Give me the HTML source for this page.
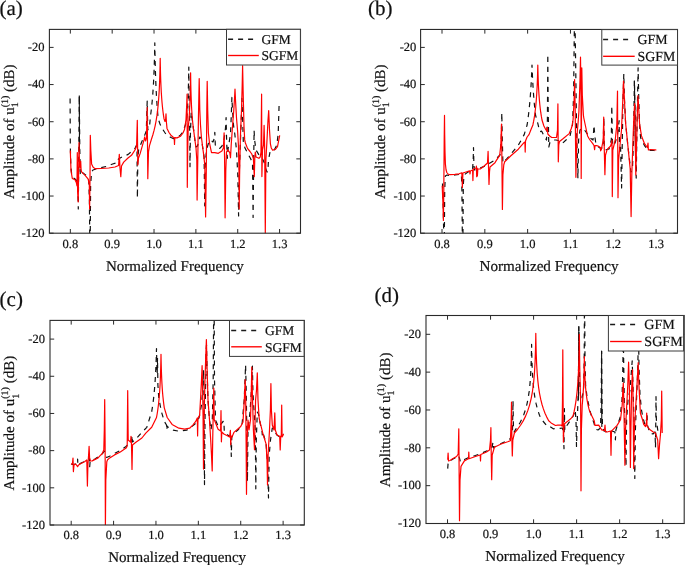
<!DOCTYPE html>
<html><head><meta charset="utf-8"><style>
html,body{margin:0;padding:0;background:#fff;width:685px;height:565px;overflow:hidden}
svg{display:block;will-change:transform;filter:blur(0.3px)}
text{font-family:"Liberation Serif", serif;fill:#111;text-rendering:geometricPrecision;stroke:#111;stroke-width:0.2px}
</style></head><body>
<svg width="685" height="565" viewBox="0 0 685 565">
<clipPath id="cpa"><rect x="49.4" y="29.4" width="251.1" height="203.8"/></clipPath>
<path d="M70.1 98.6 L70.3 145.3 L70.8 165 L71.5 173 L72.5 177 L75 179 L77 181 L77.8 186 L78.3 209 L78.8 150 L79.3 95.4 L79.8 150 L80.3 175 L81 172 L83 173 L84.9 174.5 L87.5 176.5 L88.8 181 L89.4 200 L89.8 245 L90.2 245 L90.6 185 L91.6 172 L93 170 L96 169 L100 168 L106 166.5 L112.6 164 L117.8 162.5 L118.4 159 L122 157 L128.2 154.4 L131 152 L135 148.5 L136.3 145.6 L137 150 L137.4 198 L137.8 160 L138.6 150 L141.8 141.7 L144.1 136.8 L146.3 131 L147.2 101 L147.8 130 L149.5 127 L150.4 116.7 L151.06 111.75 L151.67 106.53 L152.21 101.02 L152.7 95.21 L153.14 89.09 L153.52 82.69 L153.84 76.05 L154.12 69.27 L154.34 62.53 L154.52 56.13 L154.65 50.51 L154.74 46.17 L154.79 43.56 L154.8 42.8 L154.81 43.48 L154.85 45.82 L154.91 49.8 L155.02 55.1 L155.15 61.31 L155.33 68.03 L155.54 74.95 L155.79 81.86 L156.09 88.63 L156.42 95.18 L156.8 101.47 L157.22 107.48 L157.69 113.23 L158.2 118.7 L160 124 L162.1 128.4 L164.8 132.5 L166 134.2 L168 136 L171 137.5 L173.6 138.6 L177 137.5 L180 135.5 L182 133 L184.3 128 L186.4 122 L186.76 118.11 L187.09 114.01 L187.39 109.72 L187.66 105.22 L187.89 100.53 L188.1 95.66 L188.28 90.67 L188.43 85.65 L188.55 80.76 L188.65 76.21 L188.72 72.3 L188.77 69.35 L188.79 67.6 L188.8 67.1 L188.8 67.39 L188.81 68.41 L188.83 70.24 L188.85 72.86 L188.88 76.18 L188.92 80.11 L188.97 84.5 L189.03 89.24 L189.1 94.23 L189.18 99.36 L189.27 104.55 L189.37 109.75 L189.48 114.91 L189.6 120 L190 166.7 L190.4 135 L191.2 112 L192.8 124 L193.8 131.3 L194.9 140 L196 147 L197.5 146 L199.8 137 L201.3 138.4 L202.5 146 L203.4 152.6 L204.1 157 L204.7 205.8 L205.3 165 L206.5 150 L208.5 143 L210.5 140 L213 142 L214.4 138 L214.8 132.3 L215.3 145 L217 148 L219.8 148.3 L222 146 L224 140 L225.5 128 L226.1 117.5 L226.6 140 L227.3 158.3 L228.2 148 L230.5 134.2 L231.3 115 L231.9 97.4 L232.5 110 L233.5 125 L234.8 134 L236.5 150 L237.8 175 L238.6 216 L239.4 170 L240.5 140 L241.4 115 L241.9 98.3 L242.5 115 L243.3 141.3 L245 148 L247.5 153 L250.4 158.3 L252.5 162.6 L253.1 217.4 L253.7 160 L254.1 130.4 L254.6 140 L256 150 L259 155 L262 158 L264 162 L265.5 168 L267 172 L267.8 171.8 L268.5 160 L270 152 L273.3 151.6 L276.8 145.2 L278.2 133.9 L279.2 101.3" fill="none" stroke="#111" stroke-width="1.2" stroke-dasharray="5 5" stroke-linejoin="round" clip-path="url(#cpa)"/>
<path d="M79.3 95.4 L79.5 150" fill="none" stroke="#111" stroke-width="1.1" clip-path="url(#cpa)"/>
<path d="M70.3 150.6 L71 170.5 L72.3 178.5 L75 179.8 L76.3 182.5 L77 186 L77.3 152.6 L77.6 191.8 L78.2 202 L78.6 175 L79 142.7 L79.5 165 L80.2 168 L80.7 161.2 L81.1 170 L81.6 171.9 L84.9 175.2 L88.2 179.2 L89.3 185 L89.6 209 L90 180 L90.3 135.3 L90.8 150 L91.6 163.9 L93 167 L94.9 168.6 L101 168.5 L108.7 168 L115 167 L118.6 165.5 L119.3 154.3 L120 168 L120.8 176.7 L121.5 166 L123.7 162.1 L128 158 L131.5 155.3 L135.3 149.5 L136.6 146 L137.3 120.3 L137.8 165 L138.5 158 L140.2 153.4 L144.1 139.7 L144.7 136.8 L145.5 141 L146.5 138 L147.2 107.6 L147.8 178.7 L148.5 152 L149.5 145.6 L151.5 139 L152.81 134.99 L154 130.7 L155.08 126.08 L156.05 121.1 L156.91 115.7 L157.66 109.82 L158.31 103.4 L158.85 96.4 L159.3 88.8 L159.65 80.72 L159.91 72.52 L160.08 65.09 L160.17 59.94 L160.2 58.3 L160.21 59.02 L160.25 61.47 L160.33 65.44 L160.44 70.43 L160.59 75.93 L160.79 81.56 L161.03 87.09 L161.31 92.41 L161.64 97.47 L162.01 102.24 L162.44 106.73 L162.91 110.96 L163.43 114.94 L164 118.7 L165 121.5 L165.6 120 L166 113.8 L166.4 122 L167 128.4 L169 132.5 L170.9 135.2 L173 137 L174.2 137.7 L174.5 144.5 L174.8 137.7 L177 137.9 L180.6 136.2 L183 133 L184.5 129.5 L186 119.6 L186.7 105 L187.1 94 L187.3 187.3 L187.7 150 L188.2 128 L188.56 124.39 L188.89 120.58 L189.19 116.55 L189.46 112.29 L189.69 107.79 L189.9 103.06 L190.08 98.13 L190.23 93.06 L190.35 87.99 L190.45 83.13 L190.52 78.8 L190.57 75.44 L190.59 73.4 L190.6 72.8 L190.61 73.55 L190.64 76.08 L190.71 80.12 L190.8 85.12 L190.93 90.55 L191.1 96.04 L191.3 101.38 L191.53 106.48 L191.81 111.29 L192.13 115.81 L192.48 120.05 L192.88 124.03 L193.32 127.78 L193.8 131.3 L194.9 140 L196 148 L196.8 160 L197.1 200.1 L197.6 170 L198.4 120 L199.2 78.5 L199.8 110 L200.5 125 L201.3 136 L202.5 146 L203.4 152.6 L204.8 165 L205.6 216.9 L206.3 170 L206.8 110 L207.2 81.3 L207.7 110 L208.4 133 L209.5 143 L211.2 151.1 L211.5 152.6 L214.8 152.6 L218.3 153.3 L221.9 151.1 L223.4 148 L224.1 132.8 L224.6 160 L225.1 217.8 L225.8 170 L226.5 152 L227.7 149.8 L229.8 152.6 L230.5 157.6 L231.2 145 L232.6 125 L233.8 110 L234.6 97 L235 89.1 L235.5 100 L236.5 118 L237.6 131 L238.4 145 L239 170 L239.2 209 L239.6 175 L240.4 136.6 L241.5 110 L242.2 85 L242.6 65.7 L243.1 90 L244 126.7 L244.7 139.9 L245.4 143 L247.5 148.4 L250 151.5 L251.8 154 L253.4 158.5 L254.3 176.6 L254.8 158 L255.3 152 L256 157 L258.9 158.3 L260.2 157 L261 152 L261.6 94.2 L261.9 176.6 L262.5 150 L263.5 145 L264.1 125.4 L264.7 150 L265.3 233.5 L265.9 160 L267 140 L268 120 L268.7 110.5 L269.5 130 L270.4 143.8 L271.3 148 L272.6 150.2 L275.4 149.5 L277.5 146.7 L279.7 135.3" fill="none" stroke="#f00" stroke-width="1.2" stroke-linejoin="round" clip-path="url(#cpa)"/>
<rect x="49.4" y="29.4" width="251.1" height="203.8" fill="none" stroke="#2a2a2a" stroke-width="1.1"/>
<path d="M70.33 233.2v-4.2M70.33 29.4v4.2" stroke="#2a2a2a" stroke-width="1"/>
<text x="70.33" y="247.5" text-anchor="middle" font-size="12.5">0.8</text>
<path d="M112.18 233.2v-4.2M112.18 29.4v4.2" stroke="#2a2a2a" stroke-width="1"/>
<text x="112.18" y="247.5" text-anchor="middle" font-size="12.5">0.9</text>
<path d="M154.03 233.2v-4.2M154.03 29.4v4.2" stroke="#2a2a2a" stroke-width="1"/>
<text x="154.03" y="247.5" text-anchor="middle" font-size="12.5">1.0</text>
<path d="M195.88 233.2v-4.2M195.88 29.4v4.2" stroke="#2a2a2a" stroke-width="1"/>
<text x="195.88" y="247.5" text-anchor="middle" font-size="12.5">1.1</text>
<path d="M237.73 233.2v-4.2M237.73 29.4v4.2" stroke="#2a2a2a" stroke-width="1"/>
<text x="237.73" y="247.5" text-anchor="middle" font-size="12.5">1.2</text>
<path d="M279.57 233.2v-4.2M279.57 29.4v4.2" stroke="#2a2a2a" stroke-width="1"/>
<text x="279.57" y="247.5" text-anchor="middle" font-size="12.5">1.3</text>
<path d="M49.4 47.4h4.2M300.5 47.4h-4.2" stroke="#2a2a2a" stroke-width="1"/>
<text x="44.4" y="51.2" text-anchor="end" font-size="12.5">-20</text>
<path d="M49.4 84.56h4.2M300.5 84.56h-4.2" stroke="#2a2a2a" stroke-width="1"/>
<text x="44.4" y="88.36" text-anchor="end" font-size="12.5">-40</text>
<path d="M49.4 121.72h4.2M300.5 121.72h-4.2" stroke="#2a2a2a" stroke-width="1"/>
<text x="44.4" y="125.52" text-anchor="end" font-size="12.5">-60</text>
<path d="M49.4 158.88h4.2M300.5 158.88h-4.2" stroke="#2a2a2a" stroke-width="1"/>
<text x="44.4" y="162.68" text-anchor="end" font-size="12.5">-80</text>
<path d="M49.4 196.04h4.2M300.5 196.04h-4.2" stroke="#2a2a2a" stroke-width="1"/>
<text x="44.4" y="199.84" text-anchor="end" font-size="12.5">-100</text>
<path d="M49.4 233.2h4.2M300.5 233.2h-4.2" stroke="#2a2a2a" stroke-width="1"/>
<text x="44.4" y="237" text-anchor="end" font-size="12.5">-120</text>
<text x="174.95" y="270.5" text-anchor="middle" font-size="15">Normalized Frequency</text>
<text transform="translate(13.9 131.7) rotate(-90)" text-anchor="middle" font-size="15">Amplitude of u<tspan font-size="10" dy="4.5">1</tspan><tspan font-size="10" dx="-5" dy="-10.5">(1)</tspan><tspan dy="6"> (dB)</tspan></text>
<text x="-0.6" y="15.2" font-size="21">(a)</text>
<rect x="226.5" y="29.3" width="73.9" height="35.7" fill="#fff" stroke="#3a3a3a" stroke-width="1"/>
<path d="M228.1 39.3H253.8" stroke="#1a1a1a" stroke-width="1.5" stroke-dasharray="5 5"/>
<path d="M228.1 55.5H258.8" stroke="#f00" stroke-width="1.35"/>
<text x="261.6" y="43.9" font-size="13.5">GFM</text>
<text x="261.6" y="60.4" font-size="13.5">SGFM</text>
<clipPath id="cpb"><rect x="420.6" y="29.45" width="256.9" height="203.75"/></clipPath>
<path d="M442.5 183.5 L443.3 210 L443.9 245 L444.3 245 L444.7 190 L445.3 176 L447 175 L450 175.5 L455 175 L459 174.5 L461.4 174 L461.9 190 L462.4 245 L462.9 245 L463.3 185 L464 175 L468 172 L472.5 170 L473.2 160 L473.5 147.5 L473.9 165 L474.5 170 L480 168 L485 166 L490 163 L495 160 L500 155 L501.3 140 L501.8 112.7 L502.3 140 L502.9 162.8 L506.7 158.9 L512.5 152.1 L518.3 145.3 L524.2 134.6 L527.1 125 L527.84 119.94 L528.51 114.71 L529.12 109.34 L529.66 103.85 L530.15 98.28 L530.57 92.7 L530.93 87.21 L531.24 81.95 L531.49 77.08 L531.69 72.8 L531.83 69.32 L531.93 66.83 L531.99 65.4 L532 65 L532.01 65.29 L532.05 66.32 L532.12 68.15 L532.22 70.74 L532.36 74.01 L532.54 77.82 L532.76 82.05 L533.02 86.58 L533.32 91.28 L533.67 96.07 L534.06 100.88 L534.49 105.66 L534.97 110.38 L535.5 115 L537.8 123.4 L539.7 131.7 L541.7 131.2 L544.6 137 L546.5 140 L547.4 120 L547.8 54.3 L548.2 110 L548.8 147 L550 142 L553 140 L556 140 L560 141 L562.4 143.3 L566 140 L570 136 L572.5 125 L573.6 95 L574.2 40 L574.5 20 L575 20 L575.6 60 L576.6 130 L577.9 178.4 L578.6 140 L580 130 L583 128 L586 132 L590 138 L593 140 L594 125.3 L594.7 135 L596 145 L600 148 L603.2 148 L603.8 117.3 L604.4 149 L605 150 L609 149 L611.3 140 L611.8 105.7 L612.4 140 L612.9 146 L615 143 L617.5 135 L619.1 120.7 L619.6 150 L620.5 145 L621.6 187.9 L622.3 140 L623 100 L623.8 73.8 L624.5 100 L625.6 123 L627.9 146 L629.5 160 L631 172 L632.5 168 L633.5 140 L634.4 80.4 L635.2 120 L636.2 178.1 L636.8 140 L637.5 100 L638.1 67.8 L638.8 100 L639.6 125 L640.6 137.8 L644.5 145.6 L648.3 150.5 L654.2 150.5 L656 151" fill="none" stroke="#111" stroke-width="1.2" stroke-dasharray="5 5" stroke-linejoin="round" clip-path="url(#cpb)"/>
<path d="M634.4 80.4 L635 120 L635.6 160" fill="none" stroke="#111" stroke-width="1.1" clip-path="url(#cpb)"/>
<path d="M442.2 185.8 L443 205 L443.4 220.5 L443.8 190 L444.2 140 L444.5 115.4 L444.7 135 L445 152 L445.4 164 L446 169.5 L446.8 172.5 L448 174 L449.9 174.7 L454.8 174.3 L459.1 173.8 L461.8 172.8 L462.4 187.4 L462.9 173 L466 172 L469.6 170.9 L470 174 L470.4 171 L472.6 170 L472.9 180.6 L473.3 169 L476.1 168 L476.4 166 L476.7 176.7 L477.1 168 L477.4 176 L477.8 169 L480.3 168.9 L484.2 166 L487.5 163 L488.1 151.4 L488.6 170 L489 184.5 L489.5 172 L490 167 L495 162.8 L495.9 161.1 L499.7 155.3 L500.8 145 L501.5 124 L502 170 L502.4 209.5 L502.9 175 L503.8 164.7 L504.7 161.8 L510.6 156 L518.3 149.2 L524.2 142.4 L524.9 142 L525.2 152.1 L525.5 141 L527.1 137 L529 134.6 L531 129.5 L532.9 124.9 L533.64 121.21 L534.31 117.29 L534.92 113.12 L535.46 108.7 L535.95 104 L536.37 99.01 L536.73 93.75 L537.04 88.26 L537.29 82.67 L537.49 77.19 L537.63 72.19 L537.73 68.2 L537.79 65.73 L537.8 65 L537.81 65.61 L537.86 67.7 L537.94 71.13 L538.07 75.5 L538.24 80.39 L538.45 85.47 L538.71 90.52 L539.03 95.41 L539.39 100.1 L539.8 104.54 L540.27 108.74 L540.79 112.71 L541.37 116.46 L542 120 L543.9 126 L546 130 L546.8 131 L547.4 127.3 L547.8 134 L549.7 136 L551.7 137.5 L556.5 137.5 L557.5 130 L557.9 103.9 L558.3 161.8 L558.8 145 L559.5 141.4 L563.3 138.5 L569.2 133.6 L571.1 129 L572.1 125.8 L573.1 119.5 L574.1 100 L574.6 79.6 L575.2 110 L575.9 177.3 L576.5 150 L577.3 131.2 L577.9 125 L578.9 111.7 L580 80 L580.5 57.2 L581 95 L581.2 178.4 L581.5 120 L581.8 67.9 L582.3 95 L583.4 115 L583.8 118 L585.7 127 L587.6 136 L589.6 139.5 L592.8 143.7 L594 145.5 L594.6 149.7 L595 145.6 L596.7 145.6 L598 146 L600.3 147.6 L600.6 150.8 L601.4 149.4 L603.2 140 L603.7 117.2 L604.3 150 L604.9 174.7 L605.5 155 L607.2 149.4 L610.6 146 L611.5 143 L612 140 L612.3 196.6 L612.8 150 L615.2 140.2 L616.8 125 L617.5 91.1 L618 197.7 L618.6 160 L620 145 L621.5 130 L622.8 100 L623.5 81 L624.2 95 L625.6 123 L627.9 146 L630.2 169 L631.1 216.6 L631.8 175 L633 140 L633.8 118.4 L634.6 103.6 L635.2 130 L635.8 175 L636.4 150 L637.3 115 L638 95.5 L638.8 110 L639.6 124.2 L641.5 135.9 L644.5 143.7 L647.4 147.5 L648 143 L648.4 150 L650.3 149.5 L655.2 149.9 L656.4 150" fill="none" stroke="#f00" stroke-width="1.2" stroke-linejoin="round" clip-path="url(#cpb)"/>
<rect x="420.6" y="29.45" width="256.9" height="203.75" fill="none" stroke="#2a2a2a" stroke-width="1.1"/>
<path d="M442.01 233.2v-4.2M442.01 29.45v4.2" stroke="#2a2a2a" stroke-width="1"/>
<text x="442.01" y="247.5" text-anchor="middle" font-size="12.5">0.8</text>
<path d="M484.83 233.2v-4.2M484.83 29.45v4.2" stroke="#2a2a2a" stroke-width="1"/>
<text x="484.83" y="247.5" text-anchor="middle" font-size="12.5">0.9</text>
<path d="M527.64 233.2v-4.2M527.64 29.45v4.2" stroke="#2a2a2a" stroke-width="1"/>
<text x="527.64" y="247.5" text-anchor="middle" font-size="12.5">1.0</text>
<path d="M570.46 233.2v-4.2M570.46 29.45v4.2" stroke="#2a2a2a" stroke-width="1"/>
<text x="570.46" y="247.5" text-anchor="middle" font-size="12.5">1.1</text>
<path d="M613.28 233.2v-4.2M613.28 29.45v4.2" stroke="#2a2a2a" stroke-width="1"/>
<text x="613.28" y="247.5" text-anchor="middle" font-size="12.5">1.2</text>
<path d="M656.09 233.2v-4.2M656.09 29.45v4.2" stroke="#2a2a2a" stroke-width="1"/>
<text x="656.09" y="247.5" text-anchor="middle" font-size="12.5">1.3</text>
<path d="M420.6 47.4h4.2M677.5 47.4h-4.2" stroke="#2a2a2a" stroke-width="1"/>
<text x="416.3" y="51.2" text-anchor="end" font-size="12.5">-20</text>
<path d="M420.6 84.56h4.2M677.5 84.56h-4.2" stroke="#2a2a2a" stroke-width="1"/>
<text x="416.3" y="88.36" text-anchor="end" font-size="12.5">-40</text>
<path d="M420.6 121.72h4.2M677.5 121.72h-4.2" stroke="#2a2a2a" stroke-width="1"/>
<text x="416.3" y="125.52" text-anchor="end" font-size="12.5">-60</text>
<path d="M420.6 158.88h4.2M677.5 158.88h-4.2" stroke="#2a2a2a" stroke-width="1"/>
<text x="416.3" y="162.68" text-anchor="end" font-size="12.5">-80</text>
<path d="M420.6 196.04h4.2M677.5 196.04h-4.2" stroke="#2a2a2a" stroke-width="1"/>
<text x="416.3" y="199.84" text-anchor="end" font-size="12.5">-100</text>
<path d="M420.6 233.2h4.2M677.5 233.2h-4.2" stroke="#2a2a2a" stroke-width="1"/>
<text x="416.3" y="237" text-anchor="end" font-size="12.5">-120</text>
<text x="549.05" y="270.5" text-anchor="middle" font-size="15.15">Normalized Frequency</text>
<text transform="translate(384.5 131.72) rotate(-90)" text-anchor="middle" font-size="15">Amplitude of u<tspan font-size="10" dy="4.5">1</tspan><tspan font-size="10" dx="-5" dy="-10.5">(1)</tspan><tspan dy="6"> (dB)</tspan></text>
<text x="368.1" y="14.6" font-size="21">(b)</text>
<rect x="601.8" y="29.6" width="75.7" height="35.5" fill="#fff" stroke="#3a3a3a" stroke-width="1"/>
<path d="M603.1 39.5H629.8" stroke="#1a1a1a" stroke-width="1.5" stroke-dasharray="5 5"/>
<path d="M603.1 56.3H634.7" stroke="#f00" stroke-width="1.35"/>
<text x="637.5" y="44.4" font-size="13.85">GFM</text>
<text x="637.5" y="60.5" font-size="13.85">SGFM</text>
<clipPath id="cpc"><rect x="50" y="320.4" width="254.3" height="204.6"/></clipPath>
<path d="M71.2 464 L73 464.5 L75 464 L77.3 464 L77.6 459 L77.9 465.5 L80 463.5 L84.5 461.5 L88.8 459 L89.3 453 L89.7 466.7 L90.2 460.5 L95 459 L100.8 455 L103 453 L104.3 451 L105 453 L106.7 457.5 L110 456 L114.5 453.5 L120.3 450.5 L126 446.5 L131.5 441 L132 435.4 L132.4 442 L135.9 439 L141.7 432.5 L146.8 427.3 L151.7 411.7 L152.42 407.22 L153.08 402.51 L153.68 397.56 L154.21 392.38 L154.68 386.98 L155.1 381.38 L155.46 375.63 L155.76 369.86 L156 364.23 L156.2 358.99 L156.34 354.49 L156.43 351.09 L156.49 349.08 L156.5 348.5 L156.5 348.61 L156.51 348.99 L156.52 349.68 L156.54 350.69 L156.57 352.03 L156.61 353.66 L156.65 355.57 L156.7 357.73 L156.76 360.1 L156.83 362.65 L156.91 365.34 L157 368.15 L157.09 371.05 L157.2 374 L157.5 358 L157.9 385 L158.8 398 L161.4 411.7 L164.3 421.4 L166.5 425 L166.8 430.2 L167.2 426 L168.2 427.3 L173.1 430.2 L178.9 431.2 L186.7 430.2 L190 428 L195 424 L199 418 L201.5 405 L203 385 L203.5 370 L204 400 L204.5 484.6 L205 420 L205.6 385 L206.1 352 L206.5 345 L207 368 L208 400 L209.5 420 L211 430 L212.3 420 L213.2 380 L213.6 320 L213.8 300 L214.1 300 L214.5 380 L215.5 420 L218.5 427 L223.5 421 L223.9 421.2 L224.3 432 L227.8 435 L230.8 437 L231.3 456.4 L231.8 437 L234 433 L238 430 L242 425 L244.2 400 L245.2 375 L245.6 365.1 L246.2 390 L246.8 430 L247.4 481.3 L248 430 L250 412 L251.4 390 L252.1 370 L252.4 366.1 L252.9 390 L253.4 401 L254 410 L255.3 430 L255.8 488.8 L256.3 440 L257.3 412 L258.5 414 L260.5 425 L262 431 L262.3 435 L262.7 432 L264.5 438 L266.1 444.1 L267.5 462 L268.5 498 L269.2 455 L270.5 440 L272.3 428 L274 431 L277 435 L279.5 437 L283.6 434" fill="none" stroke="#111" stroke-width="1.2" stroke-dasharray="5 5" stroke-linejoin="round" clip-path="url(#cpc)"/>
<path d="M71.2 464.7 L72.5 463 L73 458 L73.4 471.6 L74 465 L75.7 464 L77.6 466.7 L78.6 465 L80.6 463.8 L84.5 461.8 L86.8 460 L87.4 486.1 L87.9 465 L88.6 455 L89.1 446.3 L89.6 458 L90.5 461 L92.2 460.9 L98.1 457.9 L100.8 454.9 L102 454 L103.8 450 L104.3 430 L104.7 399.5 L105.1 440 L105.4 527 L105.8 480 L106.8 461.8 L107.6 459.8 L109.7 457.9 L114.5 454.9 L120.3 452 L126.1 448.1 L127.2 446 L127.7 390.7 L128.2 440 L130.5 442 L131 436.4 L131.5 445 L132 469.5 L132.5 445 L135.9 442.3 L141.9 438 L145.8 433.1 L151.7 427.3 L156.5 417.5 L157.18 413.75 L157.79 409.76 L158.35 405.52 L158.85 400.99 L159.3 396.16 L159.69 391 L160.02 385.53 L160.3 379.76 L160.53 373.82 L160.71 367.9 L160.85 362.42 L160.94 357.95 L160.99 355.14 L161 354.3 L161.01 354.89 L161.05 356.9 L161.11 360.21 L161.21 364.44 L161.34 369.18 L161.51 374.11 L161.72 379.02 L161.96 383.79 L162.25 388.36 L162.57 392.69 L162.94 396.79 L163.35 400.67 L163.8 404.34 L164.3 407.8 L167.2 417.5 L172.1 424.4 L178.9 428.2 L184.7 429.2 L189.6 428.2 L192.8 425.1 L195.7 421.4 L197.3 418 L197.6 436 L198 418 L199.6 415.6 L200.6 397.8 L201.5 380 L202.1 365.7 L202.6 390 L203.1 420 L203.5 469.1 L204 420 L205 380 L205.8 355 L206.4 339.5 L207 365 L208 400 L209.5 420 L210.7 440 L211.5 455 L212.2 471 L212.7 440 L213.4 405 L213.8 388.1 L214.2 419.5 L218.1 429.2 L220.6 431 L221 410.5 L221.4 441.8 L221.8 432 L223.9 434 L227.8 436 L229.5 437 L230.4 430.4 L230.7 444.7 L231.2 436 L232 437 L233.9 432.4 L240.7 426.5 L243 422 L244.3 400 L245.2 379.7 L245.7 400 L246.1 440 L246.5 494.3 L247 440 L248 420 L249 430 L250.5 420 L251.2 395 L251.8 367 L252.4 395 L253.4 430 L254.5 449.7 L255 425 L255.6 400 L256.5 390 L257.3 372.9 L258 400 L259.2 418.7 L263.1 434.3 L266.1 444.1 L267 460 L267.5 485 L268.1 455 L269.5 430 L270.4 410 L270.9 383.6 L271.4 410 L272.3 425 L274 430 L274.8 412.9 L275.3 430 L277 435 L279.7 436.3 L280.2 449.9 L280.7 437 L281.3 435 L281.7 405 L282.1 437 L283.6 434.3" fill="none" stroke="#f00" stroke-width="1.2" stroke-linejoin="round" clip-path="url(#cpc)"/>
<rect x="50" y="320.4" width="254.3" height="204.6" fill="none" stroke="#2a2a2a" stroke-width="1.1"/>
<path d="M71.19 525v-4.2M71.19 320.4v4.2" stroke="#2a2a2a" stroke-width="1"/>
<text x="71.19" y="538.7" text-anchor="middle" font-size="12.5">0.8</text>
<path d="M113.58 525v-4.2M113.58 320.4v4.2" stroke="#2a2a2a" stroke-width="1"/>
<text x="113.58" y="538.7" text-anchor="middle" font-size="12.5">0.9</text>
<path d="M155.96 525v-4.2M155.96 320.4v4.2" stroke="#2a2a2a" stroke-width="1"/>
<text x="155.96" y="538.7" text-anchor="middle" font-size="12.5">1.0</text>
<path d="M198.34 525v-4.2M198.34 320.4v4.2" stroke="#2a2a2a" stroke-width="1"/>
<text x="198.34" y="538.7" text-anchor="middle" font-size="12.5">1.1</text>
<path d="M240.73 525v-4.2M240.73 320.4v4.2" stroke="#2a2a2a" stroke-width="1"/>
<text x="240.73" y="538.7" text-anchor="middle" font-size="12.5">1.2</text>
<path d="M283.11 525v-4.2M283.11 320.4v4.2" stroke="#2a2a2a" stroke-width="1"/>
<text x="283.11" y="538.7" text-anchor="middle" font-size="12.5">1.3</text>
<path d="M50 339.1h4.2M304.3 339.1h-4.2" stroke="#2a2a2a" stroke-width="1"/>
<text x="45" y="342.9" text-anchor="end" font-size="12.5">-20</text>
<path d="M50 376.28h4.2M304.3 376.28h-4.2" stroke="#2a2a2a" stroke-width="1"/>
<text x="45" y="380.08" text-anchor="end" font-size="12.5">-40</text>
<path d="M50 413.46h4.2M304.3 413.46h-4.2" stroke="#2a2a2a" stroke-width="1"/>
<text x="45" y="417.26" text-anchor="end" font-size="12.5">-60</text>
<path d="M50 450.64h4.2M304.3 450.64h-4.2" stroke="#2a2a2a" stroke-width="1"/>
<text x="45" y="454.44" text-anchor="end" font-size="12.5">-80</text>
<path d="M50 487.82h4.2M304.3 487.82h-4.2" stroke="#2a2a2a" stroke-width="1"/>
<text x="45" y="491.62" text-anchor="end" font-size="12.5">-100</text>
<path d="M50 525h4.2M304.3 525h-4.2" stroke="#2a2a2a" stroke-width="1"/>
<text x="45" y="528.8" text-anchor="end" font-size="12.5">-120</text>
<text x="177.15" y="562.3" text-anchor="middle" font-size="15">Normalized Frequency</text>
<text transform="translate(14 423.1) rotate(-90)" text-anchor="middle" font-size="15">Amplitude of u<tspan font-size="10" dy="4.5">1</tspan><tspan font-size="10" dx="-5" dy="-10.5">(1)</tspan><tspan dy="6"> (dB)</tspan></text>
<text x="-0.4" y="305.7" font-size="21">(c)</text>
<rect x="229.5" y="320.5" width="74.6" height="35.9" fill="#fff" stroke="#3a3a3a" stroke-width="1"/>
<path d="M231.2 330.5H256.8" stroke="#1a1a1a" stroke-width="1.5" stroke-dasharray="5 5"/>
<path d="M231.2 346.8H261.8" stroke="#f00" stroke-width="1.35"/>
<text x="265.1" y="335.4" font-size="13.5">GFM</text>
<text x="265.1" y="351.5" font-size="13.5">SGFM</text>
<clipPath id="cpd"><rect x="426" y="315.5" width="258.2" height="208"/></clipPath>
<path d="M447.7 468.6 L448.2 462 L450 461 L453 459 L456.6 457 L458.5 455.5 L459.4 458 L460.5 462 L462 461 L464.4 459.5 L468.8 457.5 L475.4 455.5 L481 453.5 L486.5 451 L490 449 L492 447 L493.1 442 L493.5 448 L494.4 447 L501.1 443.5 L507.7 440.5 L510.4 438.5 L512.5 430 L513 400.8 L513.5 430 L514.2 432 L515.5 429.6 L517.92 426.2 L520.13 422.54 L522.13 418.57 L523.92 414.26 L525.51 409.53 L526.9 404.31 L528.1 398.49 L529.1 391.93 L529.93 384.49 L530.58 376 L531.06 366.41 L531.38 356.22 L531.55 347.59 L531.6 344.4 L531.63 346.31 L531.73 352.04 L531.91 359.73 L532.19 367.7 L532.57 375.22 L533.04 382.06 L533.62 388.23 L534.32 393.81 L535.12 398.86 L536.04 403.47 L537.07 407.7 L538.23 411.61 L539.5 415.23 L540.9 418.6 L546.6 425.5 L547.6 425.2 L553.3 428.8 L559.9 428.3 L562.5 428 L563.5 435 L564 448.7 L564.4 408.5 L564.8 430 L566.6 426 L570 421 L573.2 416 L575.2 410 L576 420 L576.5 446.5 L577.3 420 L578.2 395 L578.6 360 L578.8 326.6 L579.1 350 L579.6 380 L580.8 400 L582 398 L583.6 390 L584.2 360 L584.4 310 L584.7 310 L585 360 L585.6 385 L586 388 L587 397 L589.8 410 L592 418 L594 423 L595.3 428.8 L596.5 429.5 L598 430 L600.5 428 L601.2 400 L601.6 351 L602 400 L602.5 427.6 L604 431 L608.3 432 L612 431 L614.9 432 L615.4 439.8 L615.9 430 L617.5 425 L620 418 L622 400 L622.8 370 L623.3 335 L623.8 370 L624.5 410 L626 466.3 L626.6 420 L628 400 L630 390 L631.5 370 L632.2 360.9 L632.8 380 L634 420 L634.8 478.5 L635.4 430 L636.5 400 L637.7 370 L638.5 335 L639.1 370 L640 395 L641.5 410 L643 418 L645 425 L646.5 420 L647 413.2 L647.4 425 L649.9 433.1 L653 434 L655 432 L655.5 447.6 L655.8 420 L656 396.6 L656.4 420 L658 432 L661 433.1" fill="none" stroke="#111" stroke-width="1.2" stroke-dasharray="5 5" stroke-linejoin="round" clip-path="url(#cpd)"/>
<path d="M578.8 326.6 L578.7 360 L578.4 400" fill="none" stroke="#111" stroke-width="1.1" clip-path="url(#cpd)"/>
<path d="M601.6 351 L601.7 400 L601.8 427" fill="none" stroke="#111" stroke-width="1.1" clip-path="url(#cpd)"/>
<path d="M447.7 459.8 L448.1 453.1 L448.5 460.9 L450 460.5 L453 458.5 L456.6 456.5 L458.2 454 L458.8 428.8 L459.2 480 L459.5 520.7 L460 480 L461 466.4 L464.4 460.9 L467 459.5 L468.5 458.7 L468.8 452 L469.1 458.7 L475.4 456.5 L480.2 455 L480.5 460.9 L480.8 454.5 L486.5 452 L489.5 450 L490.5 440 L490.9 427.7 L491.3 460 L491.7 479.7 L492.2 455 L494.4 447.3 L501.1 444 L507.7 441.8 L510.4 440.7 L511.2 420 L511.5 402 L511.9 440 L512.3 456 L512.8 440 L514.4 433 L517.62 429.26 L520.55 425.23 L523.21 420.87 L525.59 416.11 L527.7 410.89 L529.55 405.1 L531.14 398.62 L532.48 391.28 L533.58 382.88 L534.44 373.14 L535.08 361.85 L535.5 349.28 L535.74 337.83 L535.8 333.3 L535.84 336.11 L535.98 344.09 L536.24 354.03 L536.62 363.75 L537.14 372.57 L537.8 380.4 L538.61 387.36 L539.57 393.57 L540.68 399.17 L541.95 404.25 L543.39 408.9 L544.99 413.17 L546.76 417.12 L548.7 420.8 L551.1 422.9 L555.5 425.5 L557.7 425.1 L561 425 L562.1 426.1 L562.5 400 L562.8 349.8 L563.1 400 L563.4 442.1 L563.8 430 L564.4 424 L565.5 422.9 L566.6 422.1 L571 418.5 L573.2 415.5 L574.13 411.42 L574.98 407.04 L575.75 402.35 L576.44 397.28 L577.05 391.8 L577.59 385.84 L578.05 379.34 L578.44 372.27 L578.76 364.62 L579.01 356.51 L579.19 348.35 L579.31 341.03 L579.38 335.99 L579.4 334.4 L579.4 334.89 L579.42 336.59 L579.44 339.56 L579.48 343.63 L579.52 348.56 L579.59 354.07 L579.66 359.92 L579.75 365.94 L579.85 371.96 L579.97 377.91 L580.11 383.71 L580.25 389.34 L580.42 394.77 L580.6 400 L581 490.8 L581.4 430 L582.2 405.2 L582.52 401.89 L582.8 398.41 L583.06 394.74 L583.3 390.87 L583.51 386.81 L583.69 382.57 L583.84 378.18 L583.97 373.71 L584.08 369.29 L584.17 365.12 L584.23 361.47 L584.27 358.66 L584.29 356.99 L584.3 356.5 L584.32 357.5 L584.38 360.72 L584.49 365.49 L584.65 370.92 L584.87 376.4 L585.15 381.63 L585.5 386.51 L585.91 391.02 L586.38 395.17 L586.92 399.01 L587.54 402.56 L588.22 405.85 L588.97 408.93 L589.8 411.8 L594.2 420.7 L595 425.4 L598.7 425.1 L601.6 429.8 L604.5 430.5 L605 425 L605.5 432 L607.2 432 L610.5 431 L611 455.3 L611.5 431 L612.7 429.8 L617.1 425.4 L620.5 419.8 L622.2 405 L622.8 390 L623.3 383.1 L623.8 400 L624.3 430 L624.9 465.2 L625.5 430 L626.5 410 L627.8 385 L628.6 362 L629.3 385 L630 430 L630.4 467.4 L630.9 430 L631.6 390 L632.5 369.7 L633.1 400 L633.7 468.6 L634.3 430 L635.5 410 L637 385 L638.2 362.7 L638.9 385 L640 405.4 L640.4 413.2 L642.2 418.7 L643.7 424.3 L645.5 426.5 L646.5 422 L646.7 413 L647 426 L650 429.8 L653.3 432 L655.5 433 L657.7 440 L658.6 458.6 L659.5 445 L660.5 434 L661.3 420 L661.7 391 L662.2 433.1" fill="none" stroke="#f00" stroke-width="1.2" stroke-linejoin="round" clip-path="url(#cpd)"/>
<rect x="426" y="315.5" width="258.2" height="208" fill="none" stroke="#2a2a2a" stroke-width="1.1"/>
<path d="M447.52 523.5v-4.2M447.52 315.5v4.2" stroke="#2a2a2a" stroke-width="1"/>
<text x="447.52" y="538.3" text-anchor="middle" font-size="12.5">0.8</text>
<path d="M490.55 523.5v-4.2M490.55 315.5v4.2" stroke="#2a2a2a" stroke-width="1"/>
<text x="490.55" y="538.3" text-anchor="middle" font-size="12.5">0.9</text>
<path d="M533.58 523.5v-4.2M533.58 315.5v4.2" stroke="#2a2a2a" stroke-width="1"/>
<text x="533.58" y="538.3" text-anchor="middle" font-size="12.5">1.0</text>
<path d="M576.62 523.5v-4.2M576.62 315.5v4.2" stroke="#2a2a2a" stroke-width="1"/>
<text x="576.62" y="538.3" text-anchor="middle" font-size="12.5">1.1</text>
<path d="M619.65 523.5v-4.2M619.65 315.5v4.2" stroke="#2a2a2a" stroke-width="1"/>
<text x="619.65" y="538.3" text-anchor="middle" font-size="12.5">1.2</text>
<path d="M662.68 523.5v-4.2M662.68 315.5v4.2" stroke="#2a2a2a" stroke-width="1"/>
<text x="662.68" y="538.3" text-anchor="middle" font-size="12.5">1.3</text>
<path d="M426 334.3h4.2M684.2 334.3h-4.2" stroke="#2a2a2a" stroke-width="1"/>
<text x="421" y="338.1" text-anchor="end" font-size="12.5">-20</text>
<path d="M426 372.14h4.2M684.2 372.14h-4.2" stroke="#2a2a2a" stroke-width="1"/>
<text x="421" y="375.94" text-anchor="end" font-size="12.5">-40</text>
<path d="M426 409.98h4.2M684.2 409.98h-4.2" stroke="#2a2a2a" stroke-width="1"/>
<text x="421" y="413.78" text-anchor="end" font-size="12.5">-60</text>
<path d="M426 447.82h4.2M684.2 447.82h-4.2" stroke="#2a2a2a" stroke-width="1"/>
<text x="421" y="451.62" text-anchor="end" font-size="12.5">-80</text>
<path d="M426 485.66h4.2M684.2 485.66h-4.2" stroke="#2a2a2a" stroke-width="1"/>
<text x="421" y="489.46" text-anchor="end" font-size="12.5">-100</text>
<path d="M426 523.5h4.2M684.2 523.5h-4.2" stroke="#2a2a2a" stroke-width="1"/>
<text x="421" y="527.3" text-anchor="end" font-size="12.5">-120</text>
<text x="555.1" y="560.8" text-anchor="middle" font-size="15.2">Normalized Frequency</text>
<text transform="translate(389.5 419.9) rotate(-90)" text-anchor="middle" font-size="15">Amplitude of u<tspan font-size="10" dy="4.5">1</tspan><tspan font-size="10" dx="-5" dy="-10.5">(1)</tspan><tspan dy="6"> (dB)</tspan></text>
<text x="374.5" y="302" font-size="21">(d)</text>
<rect x="608.4" y="315.5" width="75.2" height="35.5" fill="#fff" stroke="#3a3a3a" stroke-width="1"/>
<path d="M610.1 324.5H636.4" stroke="#1a1a1a" stroke-width="1.5" stroke-dasharray="5 5"/>
<path d="M610.1 341.5H641.6" stroke="#f00" stroke-width="1.35"/>
<text x="644.3" y="329.4" font-size="14.1">GFM</text>
<text x="644.3" y="346.1" font-size="14.1">SGFM</text>
</svg>
</body></html>
